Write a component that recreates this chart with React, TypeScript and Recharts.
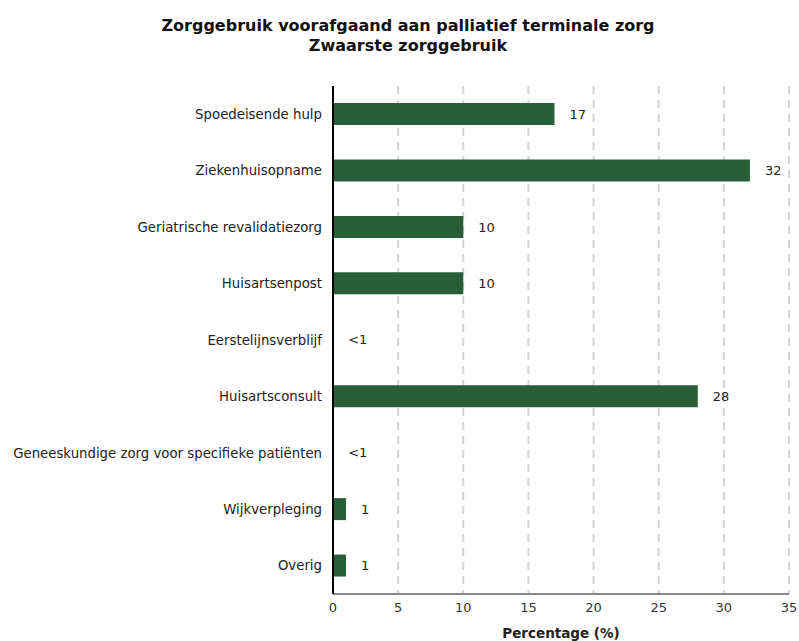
import { BarChart, Bar, XAxis, YAxis, CartesianGrid, LabelList } from 'recharts';

const categories = [
  'Spoedeisende hulp',
  'Ziekenhuisopname',
  'Geriatrische revalidatiezorg',
  'Huisartsenpost',
  'Eerstelijnsverblijf',
  'Huisartsconsult',
  'Geneeskundige zorg voor specifieke patiënten',
  'Wijkverpleging',
  'Overig',
];
// "<1" categories are drawn with a near-zero value (no visible bar in the source)
const percentages = [17, 32, 10, 10, 0.01, 28, 0.01, 1, 1];
const valueLabels = ['17', '32', '10', '10', '<1', '28', '<1', '1', '1'];
const xTicks = [0, 5, 10, 15, 20, 25, 30, 35];

const data = categories.map((name, i) => ({
  name,
  value: percentages[i],
  label: valueLabels[i],
}));

const FONT = '"DejaVu Sans", Verdana, sans-serif';

export default function App() {
  return (
    <div style={{ position: 'absolute', left: 0, top: 0, width: 799, height: 641, background: '#fff', fontFamily: FONT }}>
      <div
        style={{
          position: 'absolute', left: 0, top: 16, width: 816, textAlign: 'center',
          fontWeight: 'bold', fontSize: 16, lineHeight: '20px', color: '#111',
        }}
      >
        Zorggebruik voorafgaand aan palliatief terminale zorg
        <br />
        Zwaarste zorggebruik
      </div>
      <BarChart
        width={799}
        height={641}
        data={data}
        layout="vertical"
        barSize={22}
        margin={{ top: 86, right: 10, bottom: 1, left: 0 }}
      >
        <CartesianGrid horizontal={false} stroke="#d4d4d4" strokeWidth={2} strokeDasharray="8 6" />
        <XAxis
          type="number"
          domain={[0, 35]}
          ticks={xTicks}
          height={46}
          tickSize={0}
          tickMargin={9}
          stroke="#888"
          strokeWidth={2}
          tick={{ fill: '#333', fontSize: 13, fontFamily: FONT }}
          label={{ value: 'Percentage (%)', position: 'insideBottom', offset: 2, fill: '#222', fontSize: 13.5, fontWeight: 'bold', fontFamily: FONT }}
        />
        <YAxis
          type="category"
          dataKey="name"
          width={333}
          tickSize={0}
          tickMargin={11}
          stroke="#000"
          strokeWidth={2}
          interval={0}
          tick={{ fill: '#222', fontSize: 13.3, fontFamily: FONT }}
        />
        <Bar dataKey="value" fill="#285e38" isAnimationActive={false}>
          <LabelList dataKey="label" position="right" offset={15} fill="#222" fontSize={13} fontFamily={FONT} />
        </Bar>
      </BarChart>
    </div>
  );
}
